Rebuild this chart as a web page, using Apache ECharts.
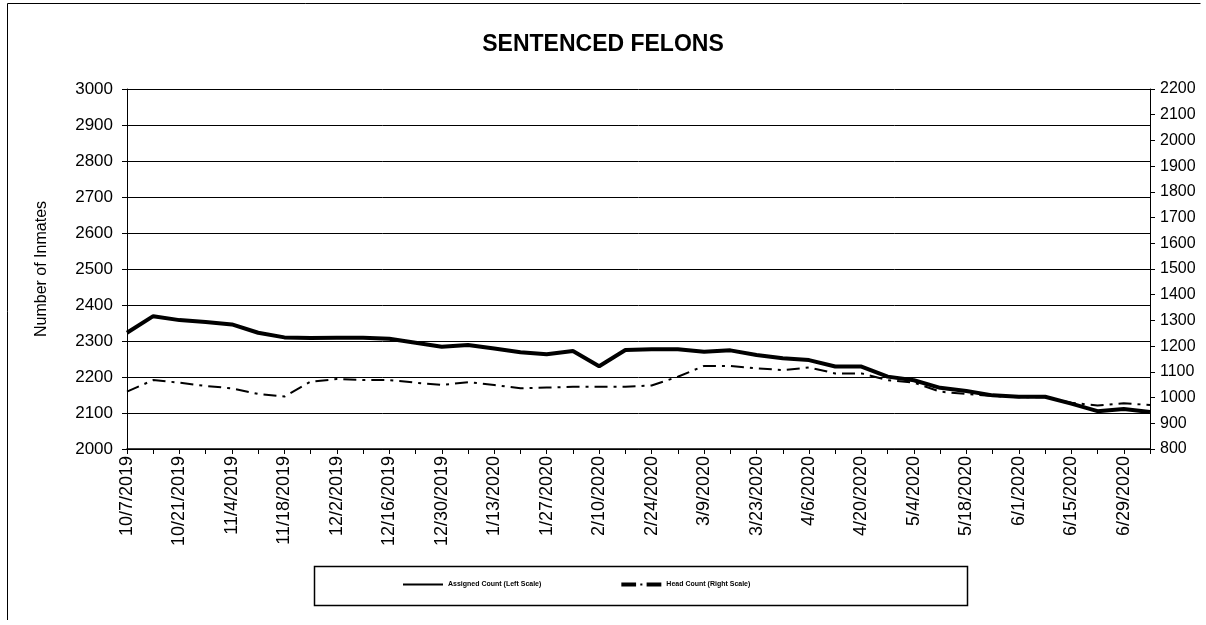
<!DOCTYPE html>
<html>
<head>
<meta charset="utf-8">
<script src="https://cdn.jsdelivr.net/npm/echarts@6/dist/echarts.min.js"></script>
<style>
html,body{margin:0;padding:0;background:#fff;}
#chart{width:1206px;height:625px;}
</style>
</head>
<body>
<div id="chart"></div>
<script>
const categories = ['10/7/2019','10/14/2019','10/21/2019','10/28/2019','11/4/2019','11/11/2019','11/18/2019','11/25/2019','12/2/2019','12/9/2019','12/16/2019','12/23/2019','12/30/2019','1/6/2020','1/13/2020','1/20/2020','1/27/2020','2/3/2020','2/10/2020','2/17/2020','2/24/2020','3/2/2020','3/9/2020','3/16/2020','3/23/2020','3/30/2020','4/6/2020','4/13/2020','4/20/2020','4/27/2020','5/4/2020','5/11/2020','5/18/2020','5/25/2020','6/1/2020','6/8/2020','6/15/2020','6/22/2020','6/29/2020','7/6/2020'];
const assignedCount = [2323,2369,2358,2353,2346,2323,2310,2308,2309,2309,2306,2295,2284,2289,2279,2269,2263,2272,2230,2275,2277,2277,2270,2274,2261,2252,2247,2229,2229,2201,2191,2170,2161,2149,2145,2145,2126,2105,2111,2103];
const headCount = [1023,1068,1058,1045,1036,1014,1004,1062,1072,1068,1068,1058,1049,1060,1049,1036,1039,1042,1042,1042,1047,1081,1123,1123,1114,1107,1117,1094,1094,1068,1058,1023,1014,1006,1001,1001,980,969,978,971];
const leftTicks = {min:2000, max:3000, interval:100};
const rightTicks = {min:800, max:2200, interval:100};

const chart = echarts.init(document.getElementById('chart'));
const font = 'Arial, "Liberation Sans", sans-serif';
chart.setOption({
  backgroundColor:'#fff',
  animation:false,
  title:{text:'SENTENCED FELONS', left:'center', top:28,
    textStyle:{fontFamily:font, fontSize:23, fontWeight:'bold', color:'#000'}},
  graphic:[
    {type:'polyline', shape:{points:[[7.5,620],[7.5,3.5],[1200.5,3.5]]}, style:{fill:'none', stroke:'#000', lineWidth:1}, silent:true, z:-1},
    {type:'rect', shape:{x:314.5,y:566.5,width:653,height:39}, style:{fill:'none', stroke:'#000', lineWidth:1.5}, silent:true}
  ],
  legend:{left:398, top:576, itemWidth:40, itemHeight:6, itemGap:80,
    textStyle:{fontFamily:font, fontSize:7, fontWeight:'bold', color:'#000'},
    data:[
      {name:'Assigned Count (Left Scale)', icon:'path://M0,0 L40,0 L40,2 L0,2 Z'},
      {name:'Head Count (Right Scale)', icon:'path://M0,0 L14,0 L14,4 L0,4 Z M18,1 L20,1 L20,3 L18,3 Z M24,0 L38,0 L38,4 L24,4 Z'}
    ]},
  grid:{left:127, right:56, top:89, bottom:176},
  xAxis:{type:'category', data:categories, boundaryGap:false,
    axisLine:{lineStyle:{color:'#000', width:1.5}},
    axisTick:{show:true, interval:0, length:5, lineStyle:{color:'#000'}},
    axisLabel:{interval:1, rotate:90, margin:7, fontFamily:font, fontSize:18, color:'#000'},
    splitLine:{show:false}},
  yAxis:[
    {type:'value', min:leftTicks.min, max:leftTicks.max, interval:leftTicks.interval, position:'left',
      name:'Number of Inmates', nameLocation:'middle', nameRotate:90, nameGap:77,
      nameTextStyle:{fontFamily:font, fontSize:16, color:'#000'},
      axisLine:{show:true, lineStyle:{color:'#000', width:1}},
      axisTick:{show:true, length:5, lineStyle:{color:'#000'}},
      axisLabel:{margin:14, fontFamily:font, fontSize:17, color:'#000', formatter:v => String(v)},
      splitLine:{show:true, lineStyle:{color:'#000', width:1}}},
    {type:'value', min:rightTicks.min, max:rightTicks.max, interval:rightTicks.interval, position:'right',
      axisLine:{show:true, lineStyle:{color:'#000', width:1}},
      axisTick:{show:true, length:5, lineStyle:{color:'#000'}},
      axisLabel:{margin:10, fontFamily:font, fontSize:16, color:'#000', formatter:v => String(v)},
      splitLine:{show:false}}
  ],
  series:[
    {name:'Assigned Count (Left Scale)', type:'line', yAxisIndex:0, data:assignedCount,
      symbol:'none', itemStyle:{color:'#000'}, lineStyle:{color:'#000', width:4}, z:3},
    {name:'Head Count (Right Scale)', type:'line', yAxisIndex:1, data:headCount,
      symbol:'none', itemStyle:{color:'#000'}, lineStyle:{color:'#000', width:2, type:[13,6,3,6]}, z:2}
  ]
});
</script>
</body>
</html>
